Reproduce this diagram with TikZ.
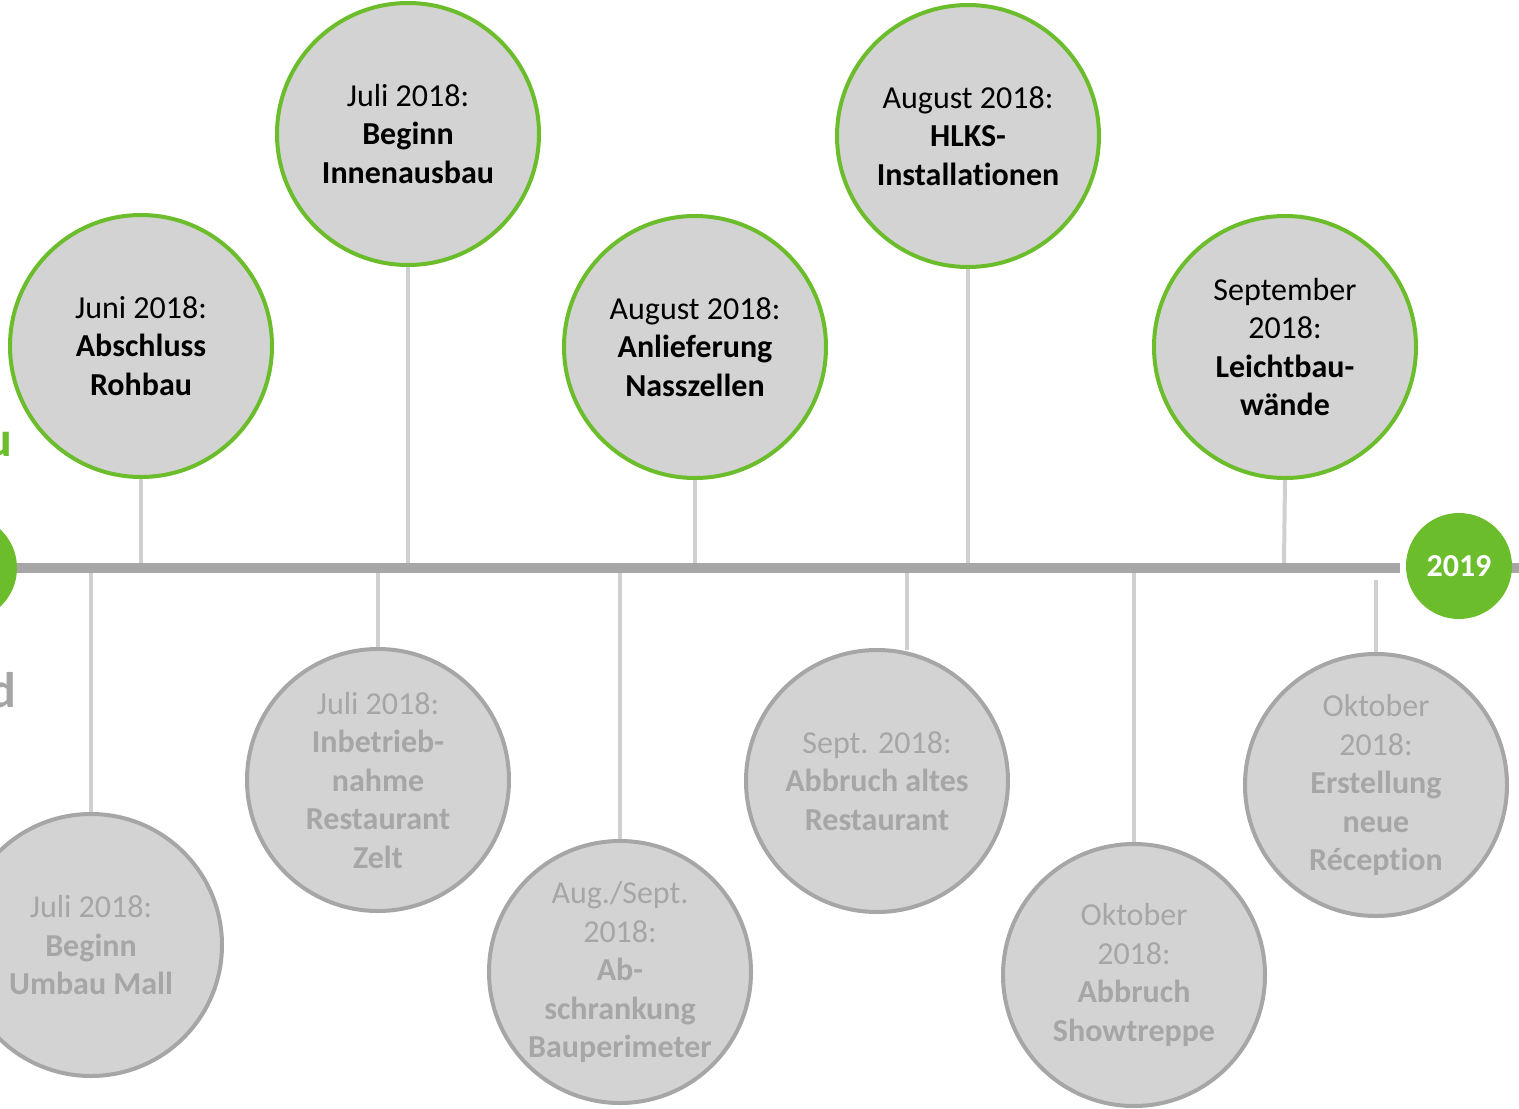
\documentclass[tikz,border=0pt]{standalone}
\usepackage{fontspec}
\setmainfont[Ligatures=NoCommon]{Carlito}
\definecolor{grn}{HTML}{6BBD2B}
\definecolor{cfill}{HTML}{D3D3D3}
\definecolor{gborder}{HTML}{A6A6A6}
\definecolor{conncol}{HTML}{D0D0D0}
\definecolor{tlcol}{HTML}{A6A6A6}
\begin{document}
\begin{tikzpicture}[x=1pt,y=-1pt,
  every node/.style={inner sep=0pt},
  txt/.style={font=\fontsize{32}{38.5}\selectfont, align=center},
  topc/.style={circle, draw=grn, line width=4pt, fill=cfill, minimum size=262pt, txt, text=black},
  botc/.style={circle, draw=gborder, line width=4pt, fill=cfill, minimum size=262pt, txt, text=gborder},
  conn/.style={draw=conncol, line width=4pt},
  tline/.style={draw=tlcol, line width=10pt},
  yearc/.style={circle, fill=grn, minimum size=106pt, text=white, font=\fontsize{32}{36}\selectfont\bfseries}
]
\useasboundingbox (0,0) rectangle (1519,1109);
\clip (0,0) rectangle (1519,1109);

% timeline coordinates
\coordinate (tlL) at (15,568);
\coordinate (tlR) at (1400,568);
\coordinate (tlRR) at (1530,568);

% connector end points on the timeline
\coordinate (e1) at (141,563);
\coordinate (e2) at (408,563);
\coordinate (e3) at (695,563);
\coordinate (e4) at (968,563);
\coordinate (e5) at (1284,563);
\coordinate (f1) at (91,573);
\coordinate (f2) at (378,573);
\coordinate (f3) at (620,570);
\coordinate (f4) at (907,573);
\coordinate (f5) at (1134,573);
\coordinate (f6) at (1376,580);

% top circles
\node[topc] (t1) at (141,346) {Juni 2018:\\\textbf{Abschluss}\\\textbf{Rohbau}};
\node[topc] (t2) at (408,134) {Juli 2018:\\\textbf{Beginn}\\\textbf{Innenausbau}};
\node[topc] (t3) at (695,347) {August 2018:\\\textbf{Anlieferung}\\\textbf{Nasszellen}};
\node[topc] (t4) at (968,136) {August 2018:\\\textbf{HLKS-}\\\textbf{Installationen}};
\node[topc] (t5) at (1285,347) {September\\2018:\\\textbf{Leichtbau-}\\\textbf{wände}};

% bottom circles
\node[botc] (b1) at (91,945) {Juli 2018:\\\textbf{Beginn}\\\textbf{Umbau Mall}};
\node[botc] (b2) at (378,780) {Juli 2018:\\\textbf{Inbetrieb-}\\\textbf{nahme}\\\textbf{Restaurant}\\\textbf{Zelt}};
\node[botc] (b3) at (620,972) {Aug./Sept.\\2018:\\\textbf{Ab-}\\\textbf{schrankung}\\\textbf{Bauperimeter}};
\node[botc] (b4) at (877,781) {Sept. 2018:\\\textbf{Abbruch altes}\\\textbf{Restaurant}};
\node[botc] (b5) at (1134,975) {Oktober\\2018:\\\textbf{Abbruch}\\\textbf{Showtreppe}};
\node[botc] (b6) at (1376,785) {Oktober\\2018:\\\textbf{Erstellung}\\\textbf{neue}\\\textbf{Réception}};

% connectors
\draw[conn] (t1.south) -- (e1);
\draw[conn] (t2.south) -- (e2);
\draw[conn] (t3.south) -- (e3);
\draw[conn] (t4.south) -- (e4);
\draw[conn] (t5.south) -- (e5);
\draw[conn] (f1) -- (b1.north);
\draw[conn] (f2) -- (b2.north);
\draw[conn] (f3) -- (b3.north);
\draw[conn] (f4) -- (907,650);
\draw[conn] (f5) -- (b5.north);
\draw[conn] (f6) -- (b6.north);

% timeline
\draw[tline] (tlL) -- (tlR);
\draw[tline] (1500,568) -- (tlRR);

% year circles
\node[yearc] (y2019) at (1459,566) {2019};
\node[yearc] (y2018) at (-36,568) {};

% cut-off side texts
\node[anchor=base east, text=grn, font=\fontsize{50}{50}\selectfont\bfseries] (su) at (13,456) {u};
\node[anchor=base east, text=gborder, font=\fontsize{50}{50}\selectfont\bfseries] (sd) at (17,707) {d};
\end{tikzpicture}
\end{document}
